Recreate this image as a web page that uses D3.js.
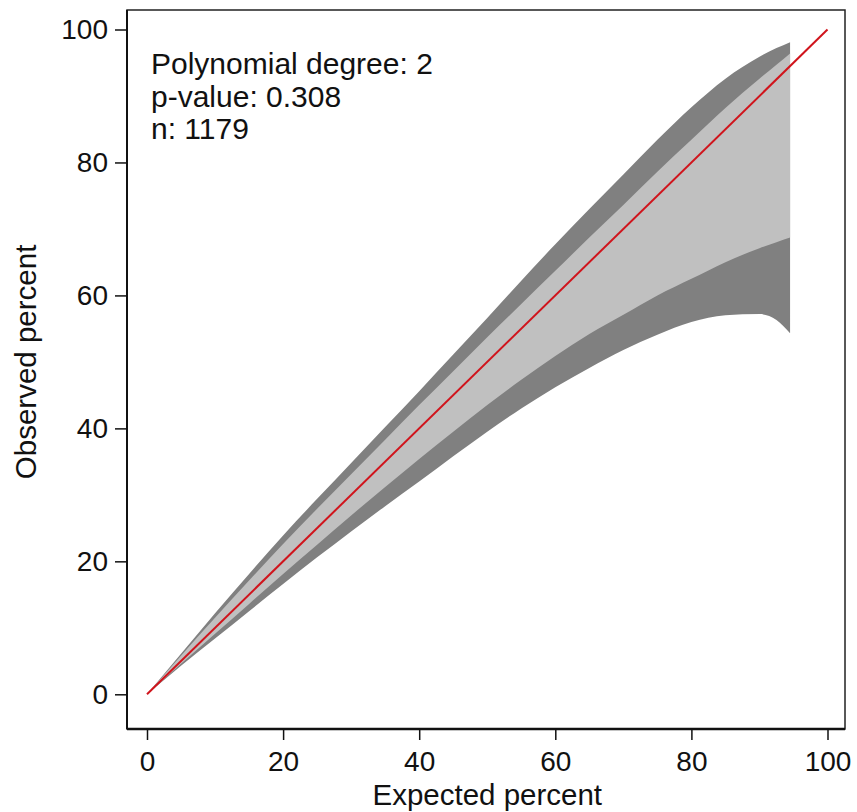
<!DOCTYPE html>
<html>
<head>
<meta charset="utf-8">
<script src="https://cdn.jsdelivr.net/npm/d3@7"></script>
<style>
  body { margin: 0; background: #fff; }
  text { font-family: "Liberation Sans", Arial, sans-serif; fill: #111; }
</style>
</head>
<body>
<svg id="chart" width="857" height="812"></svg>
<script>
// expected percent (x) and the band edges
var expected   = [0, 5, 10, 15, 20, 25, 30, 35, 40, 45, 50, 55, 60, 65, 70, 75, 80, 85, 90, 92.5, 94.5];
var upperOuter = [0, 6.1, 12.2, 18.1, 23.9, 29.4, 34.8, 40.2, 45.6, 51.1, 56.6, 62.2, 67.7, 73.0, 78.2, 83.4, 88.3, 92.6, 95.9, 97.2, 98.1];
var upperInner = [0, 5.8, 11.5, 17.1, 22.6, 27.9, 33.1, 38.3, 43.5, 48.6, 53.7, 58.7, 63.7, 68.7, 73.6, 78.6, 83.4, 88.2, 92.6, 94.7, 96.4];
var lowerInner = [0, 4.6, 9.1, 13.6, 18.1, 22.5, 26.9, 31.2, 35.4, 39.5, 43.5, 47.3, 50.9, 54.2, 57.1, 60.0, 62.5, 65.0, 67.1, 68.0, 68.7];
var lowerOuter = [0, 4.3, 8.4, 12.5, 16.6, 20.6, 24.5, 28.3, 32.0, 35.8, 39.5, 43.0, 46.2, 49.1, 51.8, 54.1, 56.0, 57.0, 57.2, 56.3, 54.3];

// reference line
var refX = [0, 100];
var refY = [0, 100];

var xTicks = [0, 20, 40, 60, 80, 100];
var yTicks = [0, 20, 40, 60, 80, 100];

var notes = ["Polynomial degree: 2", "p-value: 0.308", "n: 1179"];

var svg = d3.select("#chart");

var x = d3.scaleLinear().domain([0, 100]).range([147, 827.5]);
var y = d3.scaleLinear().domain([0, 100]).range([694.3, 29.5]);

var boxL = 127, boxR = 845, boxT = 10, boxB = 729;

var rows = expected.map(function(e, i) {
  return { x: e, uo: upperOuter[i], ui: upperInner[i], li: lowerInner[i], lo: lowerOuter[i] };
});

var outerArea = d3.area()
  .curve(d3.curveMonotoneX)
  .x(function(d) { return x(d.x); })
  .y0(function(d) { return y(d.lo); })
  .y1(function(d) { return y(d.uo); });

var innerArea = d3.area()
  .curve(d3.curveMonotoneX)
  .x(function(d) { return x(d.x); })
  .y0(function(d) { return y(d.li); })
  .y1(function(d) { return y(d.ui); });

svg.append("path").datum(rows).attr("d", outerArea).attr("fill", "#808080");
svg.append("path").datum(rows).attr("d", innerArea).attr("fill", "#c0c0c0");

var line = d3.line()
  .x(function(d) { return x(d[0]); })
  .y(function(d) { return y(d[1]); });

svg.append("path")
  .datum(refX.map(function(v, i) { return [v, refY[i]]; }))
  .attr("d", line)
  .attr("fill", "none")
  .attr("stroke", "#d0141c")
  .attr("stroke-width", 2);

// frame
svg.append("rect")
  .attr("x", boxL).attr("y", boxT)
  .attr("width", boxR - boxL).attr("height", boxB - boxT)
  .attr("fill", "none").attr("stroke", "#222").attr("stroke-width", 1.5);
svg.append("line").attr("x1", boxL).attr("x2", boxL).attr("y1", boxT).attr("y2", boxB)
  .attr("stroke", "#111").attr("stroke-width", 2);
svg.append("line").attr("x1", boxL).attr("x2", boxR).attr("y1", boxB).attr("y2", boxB)
  .attr("stroke", "#111").attr("stroke-width", 2.5);

// axes
var xAxis = svg.append("g")
  .attr("transform", "translate(0," + boxB + ")")
  .call(d3.axisBottom(x).tickValues(xTicks).tickSize(11).tickPadding(11));
var yAxis = svg.append("g")
  .attr("transform", "translate(" + boxL + ",0)")
  .call(d3.axisLeft(y).tickValues(yTicks).tickSize(12).tickPadding(7));

[xAxis, yAxis].forEach(function(g) {
  g.select(".domain").remove();
  g.selectAll("line").attr("stroke", "#111").attr("stroke-width", 1.5);
  g.selectAll("text")
    .attr("font-size", "28px")
    .attr("font-family", "'Liberation Sans', Arial, sans-serif")
    .attr("fill", "#111");
});

// axis titles
svg.append("text")
  .attr("x", x(50)).attr("y", 805)
  .attr("text-anchor", "middle")
  .attr("font-size", "29.5px")
  .text("Expected percent");

svg.append("text")
  .attr("transform", "translate(36," + y(50) + ") rotate(-90)")
  .attr("text-anchor", "middle")
  .attr("font-size", "29.5px")
  .text("Observed percent");

// annotation
svg.selectAll(".note")
  .data(notes)
  .enter().append("text")
  .attr("class", "note")
  .attr("x", 151)
  .attr("y", function(d, i) { return 74 + i * 32.5; })
  .attr("font-size", "30px")
  .text(function(d) { return d; });
</script>
</body>
</html>
